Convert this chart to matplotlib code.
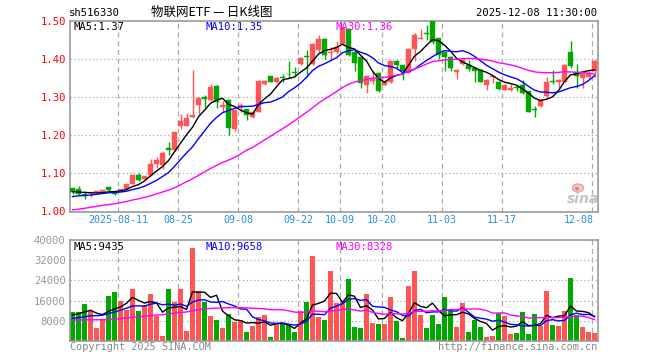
import numpy as np
import pandas as pd
import matplotlib
matplotlib.use("Agg")
import matplotlib.pyplot as plt

# ---------------- data ----------------
opens = [1.060, 1.058, 1.045, 1.047, 1.049, 1.051, 1.063, 1.051, 1.053, 1.058,
         1.072, 1.096, 1.085, 1.094, 1.125, 1.121, 1.167, 1.160, 1.223, 1.225,
         1.247, 1.280, 1.300, 1.293, 1.330, 1.274, 1.293, 1.216, 1.274, 1.268,
         1.249, 1.262, 1.334, 1.356, 1.341, 1.353, 1.362, 1.366, 1.388, 1.408,
         1.388, 1.423, 1.453, 1.416, 1.418, 1.440, 1.479, 1.420, 1.405, 1.333,
         1.342, 1.363, 1.333, 1.339, 1.395, 1.385, 1.366, 1.428, 1.454, 1.469,
         1.500, 1.455, 1.418, 1.407, 1.365, 1.388, 1.385, 1.376, 1.371, 1.332,
         1.354, 1.341, 1.320, 1.318, 1.326, 1.333, 1.315, 1.269, 1.278, 1.302,
         1.343, 1.341, 1.341, 1.420, 1.366, 1.350, 1.353, 1.368]
closes = [1.051, 1.045, 1.040, 1.050, 1.052, 1.055, 1.055, 1.044, 1.058, 1.071,
          1.094, 1.081, 1.092, 1.125, 1.134, 1.154, 1.160, 1.208, 1.237, 1.245,
          1.254, 1.298, 1.294, 1.328, 1.286, 1.280, 1.218, 1.265, 1.280, 1.253,
          1.260, 1.343, 1.343, 1.341, 1.350, 1.351, 1.360, 1.364, 1.404, 1.406,
          1.440, 1.453, 1.411, 1.420, 1.431, 1.482, 1.411, 1.391, 1.338, 1.355,
          1.348, 1.315, 1.341, 1.395, 1.386, 1.369, 1.428, 1.463, 1.456, 1.467,
          1.446, 1.411, 1.405, 1.378, 1.372, 1.398, 1.375, 1.368, 1.341, 1.346,
          1.357, 1.321, 1.332, 1.324, 1.324, 1.310, 1.262, 1.267, 1.293, 1.341,
          1.340, 1.345, 1.386, 1.381, 1.356, 1.363, 1.363, 1.396]
highs = [1.061, 1.066, 1.052, 1.051, 1.053, 1.056, 1.064, 1.052, 1.059, 1.072,
         1.095, 1.101, 1.093, 1.138, 1.143, 1.157, 1.182, 1.209, 1.256, 1.258,
         1.371, 1.300, 1.306, 1.335, 1.332, 1.289, 1.295, 1.270, 1.285, 1.270,
         1.262, 1.344, 1.345, 1.357, 1.354, 1.362, 1.394, 1.380, 1.405, 1.425,
         1.442, 1.464, 1.455, 1.431, 1.447, 1.484, 1.481, 1.423, 1.407, 1.357,
         1.370, 1.365, 1.343, 1.397, 1.397, 1.386, 1.430, 1.469, 1.480, 1.490,
         1.502, 1.457, 1.420, 1.409, 1.374, 1.400, 1.398, 1.378, 1.373, 1.348,
         1.358, 1.343, 1.334, 1.335, 1.333, 1.344, 1.317, 1.277, 1.295, 1.354,
         1.372, 1.347, 1.388, 1.448, 1.388, 1.365, 1.370, 1.398]
lows = [1.045, 1.041, 1.031, 1.038, 1.046, 1.050, 1.053, 1.042, 1.051, 1.056,
        1.070, 1.079, 1.083, 1.092, 1.113, 1.112, 1.147, 1.158, 1.217, 1.223,
        1.245, 1.255, 1.274, 1.291, 1.271, 1.260, 1.201, 1.210, 1.262, 1.240,
        1.245, 1.260, 1.332, 1.340, 1.337, 1.341, 1.350, 1.353, 1.386, 1.354,
        1.386, 1.416, 1.400, 1.400, 1.415, 1.438, 1.408, 1.368, 1.325, 1.312,
        1.334, 1.313, 1.331, 1.337, 1.375, 1.346, 1.364, 1.396, 1.453, 1.450,
        1.441, 1.400, 1.368, 1.368, 1.348, 1.385, 1.370, 1.341, 1.339, 1.320,
        1.337, 1.319, 1.318, 1.316, 1.316, 1.308, 1.260, 1.248, 1.275, 1.295,
        1.335, 1.325, 1.339, 1.376, 1.324, 1.324, 1.347, 1.352]
volumes = [11600, 11600, 14800, 12000, 5200, 8700, 18000, 19600, 16000, 12400,
           20400, 12000, 14300, 18800, 10000, 2000, 20400, 15600, 20400, 4000,
           36800, 19900, 15600, 10000, 8400, 5200, 10800, 7600, 8400, 3600,
           6000, 9700, 10300, 1600, 6700, 6700, 6300, 3600, 12000, 15600,
           33600, 9600, 8400, 27600, 14900, 16000, 24400, 5700, 5300, 18500,
           7300, 6800, 6800, 17300, 8000, 1300, 21600, 27600, 10100, 5300,
           10400, 6800, 17300, 11900, 5700, 15200, 3600, 8400, 5700, 1700,
           2100, 10900, 10000, 2900, 3300, 11300, 2900, 10800, 6000, 20000,
           6500, 6000, 11700, 24900, 10300, 5700, 3700, 3200]

# moving-average values at the left edge (before a full window is in view)
ma5_lead = [1.051, 1.050, 1.049, 1.048]
ma10_lead = [1.038, 1.040, 1.041, 1.042, 1.044, 1.046, 1.048, 1.049, 1.050]
ma30_lead = [1.003, 1.005, 1.007, 1.010, 1.012, 1.015, 1.017, 1.019, 1.022, 1.025,
             1.029, 1.032, 1.036, 1.040, 1.045, 1.050, 1.055, 1.061, 1.069, 1.077,
             1.085, 1.094, 1.103, 1.112, 1.120, 1.128, 1.134, 1.141, 1.150]
vma5_lead = [10300, 10800, 11500, 12200]
vma10_lead = [9000, 9200, 9600, 10000, 10000, 10200, 10800, 11500, 12200]
vma30_lead = [8300, 8300, 8350, 8400, 8400, 8450, 8500, 8700, 8900, 9100,
              9400, 9600, 9800, 10100, 10300, 10400, 10700, 11000, 11300, 11500,
              12000, 12400, 12700, 12900, 13000, 13100, 13200, 13200, 13200]

date_ticks = [8, 18, 28, 38, 45, 52, 62, 72, 87]
date_labels = ["2025-08-11", "08-25", "09-08", "09-22", "10-09", "10-20",
               "11-03", "11-17", "12-08"]
price_ticks = [1.00, 1.10, 1.20, 1.30, 1.40, 1.50]
vol_ticks = [8000, 16000, 24000, 32000, 40000]

code = "sh516330"
title = "物联网ETF — 日K线图"
stamp = "2025-12-08 11:30:00"
ma_labels = ["MA5:1.37", "MA10:1.35", "MA30:1.36"]
vma_labels = ["MA5:9435", "MA10:9658", "MA30:8328"]

# ---------------- helpers ----------------
def moving_avg(vals, n, lead):
    s = pd.Series(vals, dtype=float).rolling(n).mean().to_numpy()
    s[:n - 1] = lead
    return s

RED = "#ff5555"
GREEN = "#00a800"
GRID = "#aaaaaa"
FRAME = "#999999"
MONO = "DejaVu Sans Mono"

o = np.array(opens); c = np.array(closes); h = np.array(highs); l = np.array(lows)
v = np.array(volumes)
x = np.arange(len(c))
up = c >= o
cols = np.where(up, RED, GREEN)

W, H = 660, 360
fig = plt.figure(figsize=(W / 100, H / 100), dpi=100)
fig.patch.set_facecolor("white")

def ax_rect(x0, y0, x1, y1):
    return [x0 / W, 1 - y1 / H, (x1 - x0) / W, (y1 - y0) / H]

ax = fig.add_axes(ax_rect(70, 20.5, 597.5, 211.5))
axv = fig.add_axes(ax_rect(70, 240, 597.5, 341))

xmin, xmax = -0.4167, 87.5
for a in (ax, axv):
    a.set_xlim(xmin, xmax)
    for s in a.spines.values():
        s.set_color(FRAME)
        s.set_linewidth(1.2)
    a.tick_params(length=0)
    a.set_xticks([])
    for t in date_ticks:
        a.axvline(t - 0.37, color=GRID, lw=0.9, ls=(0, (4, 3)), zorder=0)

# ---- price panel ----
ax.set_ylim(0.9987, 1.502)
for p in price_ticks[1:-1]:
    ax.axhline(p, color=GRID, lw=0.9, ls=(0, (1, 2)), zorder=0)
ax.vlines(x, l, h, colors=cols, lw=1.0, zorder=2)
bottoms = np.minimum(o, c)
heights = np.maximum(np.abs(c - o), 0.0012)
ax.bar(x, heights, bottom=bottoms, width=0.75, color=cols, edgecolor=cols,
       linewidth=0.3, zorder=3)
ax.plot(x, moving_avg(c, 5, ma5_lead), color="black", lw=1.0, zorder=4)
ax.plot(x, moving_avg(c, 10, ma10_lead), color="#0000ff", lw=1.0, zorder=4)
ax.plot(x, moving_avg(c, 30, ma30_lead), color="#ff00ff", lw=1.0, zorder=4)
ax.set_yticks(price_ticks)
ax.set_yticklabels([f"{p:.2f}" for p in price_ticks], family=MONO, fontsize=7.6,
                   color="#ff0000")
ax.tick_params(axis="y", pad=3)

for tx, lab in zip(date_ticks, date_labels):
    ha = "right" if tx == date_ticks[-1] else "center"
    ax.text(tx - 0.37 + (0.2 if ha == "right" else 0), 1.0 - 9 / 381, lab,
            ha=ha, va="center", family=MONO, fontsize=7.2, color="#2a8ee0")

# ---- volume panel ----
axv.set_ylim(0, 40000)
for t in vol_ticks[:-1]:
    axv.axhline(t, color=GRID, lw=0.9, ls=(0, (1, 2)), zorder=0)
axv.bar(x, v, width=0.8, color=cols, linewidth=0, zorder=2)
axv.plot(x, moving_avg(v, 5, vma5_lead), color="black", lw=1.0, zorder=3)
axv.plot(x, moving_avg(v, 10, vma10_lead), color="#0000ff", lw=1.0, zorder=3)
axv.plot(x, moving_avg(v, 30, vma30_lead), color="#ff00ff", lw=1.0, zorder=3)
axv.set_yticks(vol_ticks)
axv.set_yticklabels([str(t) for t in vol_ticks], family=MONO, fontsize=7.6,
                    color="#999999")
axv.tick_params(axis="y", pad=3)

# ---- texts ----
def ftext(px, py, s, **kw):
    fig.text(px / W, 1 - py / H, s, **kw)

ftext(69, 12.5, code, family=MONO, fontsize=7.6, color="black", va="center")
ftext(151, 12.5, title, family=["Noto Sans CJK SC", "DejaVu Sans"], fontsize=9,
      color="black", va="center")
ftext(597, 12.5, stamp, family=MONO, fontsize=7.6, color="black", va="center",
      ha="right")

for px, lab, col in zip([74, 205, 335], ma_labels, ["black", "#0000ff", "#ff00ff"]):
    ftext(px, 27, lab, family=MONO, fontsize=7.6, color=col, va="center")
for px, lab, col in zip([74, 205, 335], vma_labels, ["black", "#0000ff", "#ff00ff"]):
    ftext(px, 247, lab, family=MONO, fontsize=7.6, color=col, va="center")

ftext(70, 347, "Copyright 2025 SINA.COM", family=MONO, fontsize=7.4,
      color="#888888", va="center")
ftext(597, 347, "http://finance.sina.com.cn", family=MONO, fontsize=7.4,
      color="#888888", va="center", ha="right")

# watermark
ftext(583, 199, "sina", family="DejaVu Sans", fontsize=10, style="italic",
      weight="bold", color="#c4c4c4", va="center", ha="center")
fig.patches.append(matplotlib.patches.Ellipse((578 / W, 1 - 188 / H), 11 / W, 8 / H,
                   transform=fig.transFigure, facecolor="#f6caca",
                   edgecolor="#e9a0a0", lw=1.0))
fig.patches.append(matplotlib.patches.Ellipse((577 / W, 1 - 188.5 / H), 4 / W, 3.5 / H,
                   transform=fig.transFigure, facecolor="#d08080",
                   edgecolor="none"))

fig.savefig("out.png", dpi=100, facecolor="white")
